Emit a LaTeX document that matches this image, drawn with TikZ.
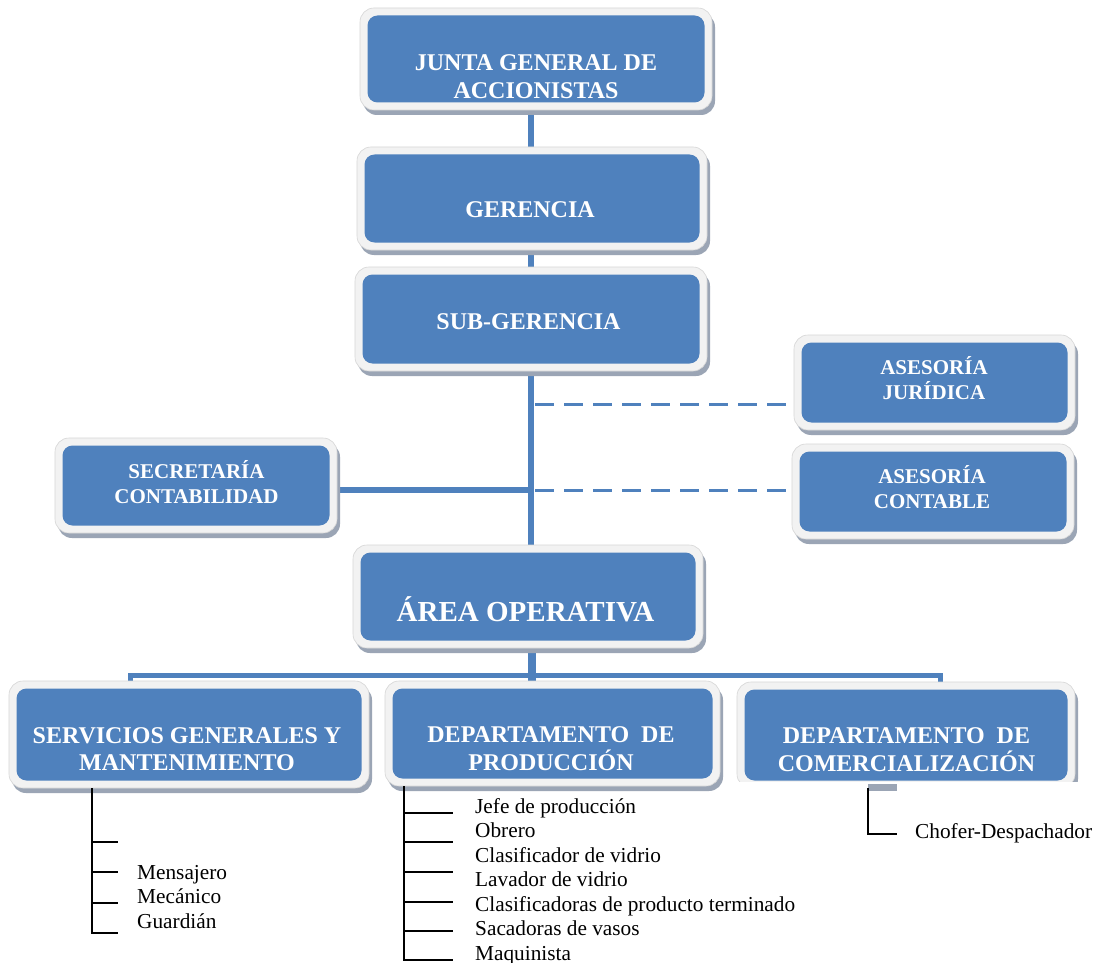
\documentclass[tikz,border=0pt]{standalone}
\usepackage{fontspec}
\setmainfont{Liberation Serif}
\usetikzlibrary{shadows,backgrounds}
\definecolor{boxblue}{HTML}{4F81BD}
\definecolor{framegray}{HTML}{F2F2F2}
\definecolor{frameedge}{HTML}{D6D6D6}
\definecolor{shadowgray}{HTML}{9BA5B5}
\tikzset{
  orgbox/.style={rectangle, rounded corners=14pt, fill=framegray, draw=frameedge, line width=0.6pt, inner sep=0pt,
    general shadow={fill=shadowgray, shadow xshift=3pt, shadow yshift=-5pt},
    path picture={\fill[boxblue, rounded corners=10pt]
      ([xshift=7.5pt,yshift=-7.5pt]path picture bounding box.north west) rectangle
      ([xshift=-7.5pt,yshift=7.5pt]path picture bounding box.south east);}},
  boxtxt/.style={text=white, font=\bfseries\fontsize{24}{27.5}\selectfont, align=center, inner sep=0pt},
  smalltxt/.style={boxtxt, font=\bfseries\fontsize{21}{25}\selectfont},
  bigtxt/.style={boxtxt, font=\bfseries\fontsize{29}{33}\selectfont},
  conn/.style={draw=boxblue, line width=6pt},
  dashconn/.style={draw=boxblue, line width=3pt, dash pattern=on 19pt off 10pt},
  listline/.style={draw=black, line width=1.7pt},
  listtxt/.style={anchor=base west, inner sep=0pt, font=\fontsize{21.3}{24.5}\selectfont},
}
\begin{document}
\begin{tikzpicture}[x=1pt,y=-1pt]
\useasboundingbox (0,0) rectangle (1101,963);

% boxes
\node[orgbox, minimum width=352pt, minimum height=102pt] (junta) at (536,59) {};
\node[orgbox, minimum width=350pt, minimum height=103pt] (gerencia) at (532,198.5) {};
\node[orgbox, minimum width=352pt, minimum height=104pt] (sub) at (531,319) {};
\node[orgbox, minimum width=281pt, minimum height=95pt] (juridica) at (934.5,382.5) {};
\node[orgbox, minimum width=282pt, minimum height=95pt] (contable) at (933,491.5) {};
\node[orgbox, minimum width=282pt, minimum height=95pt] (secretaria) at (196,485.5) {};
\node[orgbox, minimum width=350pt, minimum height=103pt] (area) at (528,596.5) {};
\node[orgbox, minimum width=360pt, minimum height=107pt] (servicios) at (189,734.5) {};
\node[orgbox, minimum width=335pt, minimum height=105pt] (produccion) at (552.5,733.5) {};
\node[orgbox, minimum width=338pt, minimum height=106pt] (comercial) at (906,735) {};
% cut-off bottom of the commercial box
\fill[white] (731,781.5) rectangle (1082,795);
\fill[shadowgray] (868,784) rectangle (897,791);

% box texts
\node[boxtxt] (junta-t) at (536,76.5) {JUNTA GENERAL DE\\ACCIONISTAS};
\node[boxtxt] (gerencia-t) at (530,210) {GERENCIA};
\node[boxtxt] (sub-t) at (528.5,322) {SUB-GERENCIA};
\node[smalltxt] (juridica-t) at (934,378) {ASESORÍA\\JURÍDICA};
\node[smalltxt] (contable-t) at (932,487) {ASESORÍA\\CONTABLE};
\node[smalltxt] (secretaria-t) at (196.5,482.5) {SECRETARÍA\\CONTABILIDAD};
\node[bigtxt] (area-t) at (525.5,609) {ÁREA OPERATIVA};
\node[boxtxt] (servicios-t) at (187,749) {SERVICIOS GENERALES Y\\MANTENIMIENTO};
\node[boxtxt] (produccion-t) at (551,748.5) {DEPARTAMENTO\ \ DE\\PRODUCCIÓN};
\node[boxtxt] (comercial-t) at (906.5,749.5) {DEPARTAMENTO\ \ DE\\COMERCIALIZACIÓN};

% connectors
\coordinate (spine) at (531,0);
\coordinate (jA) at (531,404);
\coordinate (jB) at (531,490);
\coordinate (busL) at (130,675);
\coordinate (busM) at (532,675);
\coordinate (busR) at (940,675);
\begin{scope}[on background layer]
\fill[white] (0,0) rectangle (1101,963);
\draw[conn] (junta.south -| spine) -- (gerencia.north -| spine);
\draw[conn] (gerencia.south -| spine) -- (sub.north -| spine);
\draw[conn] (sub.south -| spine) -- (area.north -| spine);
\draw[conn] (secretaria.east |- jB) -- (jB);
\draw[dashconn] ([xshift=4pt]jA) -- (juridica.west |- jA);
\draw[dashconn] ([xshift=4pt]jB) -- (contable.west |- jB);
\draw[conn, line width=8pt] (area.south -| busM) -- (produccion.north -| busM);
\draw[conn, line width=5pt] (servicios.north -| busL) -- (busL) -- (busR) -- (comercial.north -| busR);
\end{scope}

% lists
\coordinate (sv) at (92,933);
\draw[listline] (servicios.south -| sv) -- (sv) -- ++(26,0);
\foreach \yy in {842,872,903} \draw[listline] (sv |- 0,\yy) -- ++(26,0);
\node[listtxt] (mensajero) at (137,879) {Mensajero};
\node[listtxt] (mecanico) at (137,903.5) {Mecánico};
\node[listtxt] (guardian) at (137,928) {Guardián};

\coordinate (pv) at (404,960);
\draw[listline] (produccion.south -| pv) -- (pv) -- ++(49,0);
\foreach \yy in {813,842,872,902,931} \draw[listline] (pv |- 0,\yy) -- ++(49,0);
\node[listtxt] (jefe) at (475,813) {Jefe de producción};
\node[listtxt] (obrero) at (475,837.5) {Obrero};
\node[listtxt] (clasif) at (475,862) {Clasificador de vidrio};
\node[listtxt] (lavador) at (475,886.5) {Lavador de vidrio};
\node[listtxt] (clasifp) at (475,911) {Clasificadoras de producto terminado};
\node[listtxt] (sacadoras) at (475,935.5) {Sacadoras de vasos};
\node[listtxt] (maquinista) at (475,960) {Maquinista};

\coordinate (cv) at (868,834);
\draw[listline] (comercial.south -| cv) -- (cv) -- ++(29,0);
\node[listtxt] (chofer) at (915,838) {Chofer-Despachador};
\end{tikzpicture}
\end{document}
